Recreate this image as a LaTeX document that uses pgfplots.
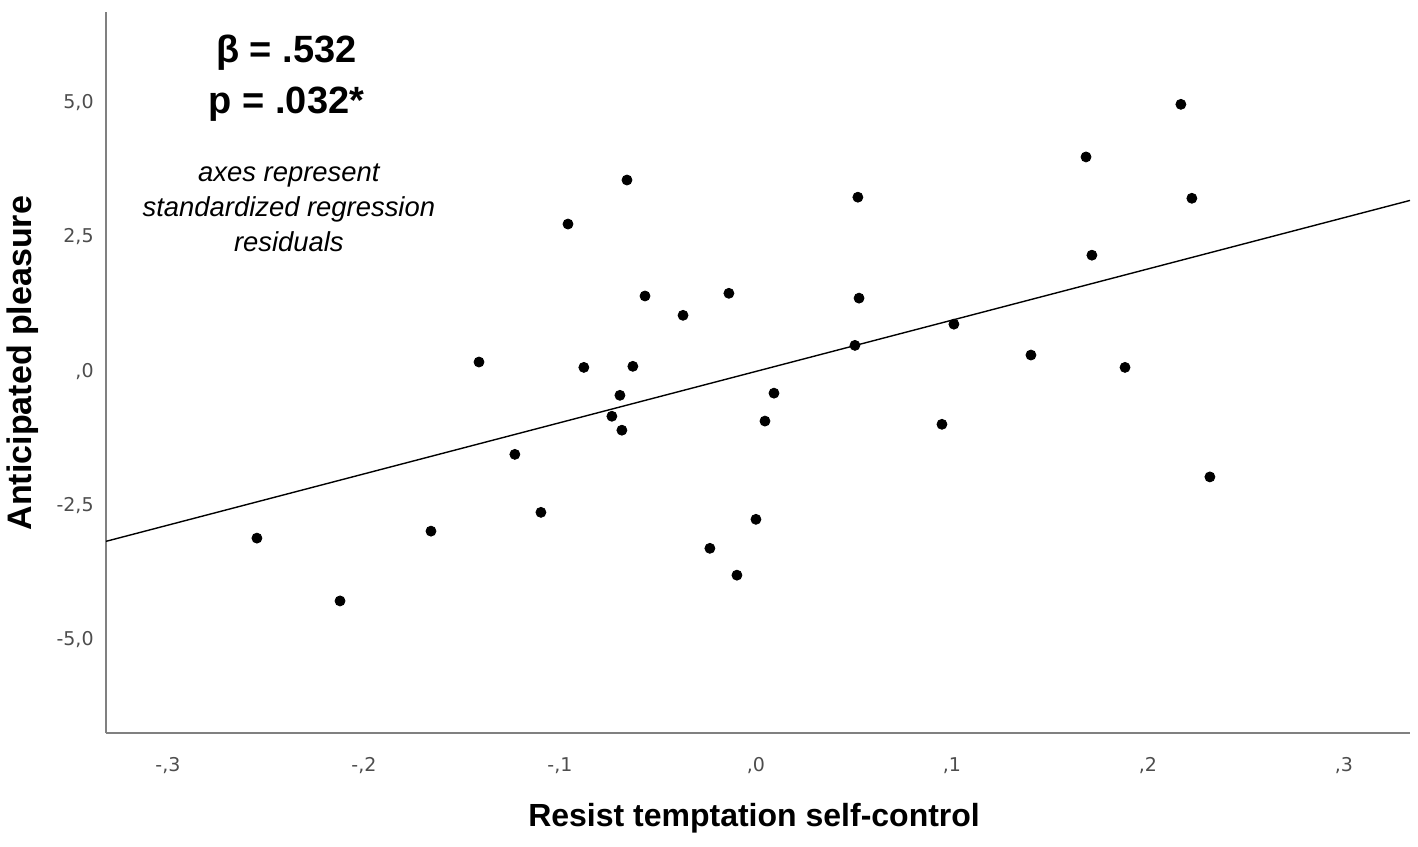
\documentclass[border=0pt]{standalone}
\usepackage{fontspec}
\setmainfont{Liberation Sans}
\newfontfamily\tickfont{DejaVu Sans}
\usepackage{pgfplots}
\pgfplotsset{compat=1.18}
\definecolor{axgray}{HTML}{808080}
\definecolor{tickgray}{HTML}{4d4d4d}

\pgfplotstableread{
x y
0.2168 4.97
0.1684 3.99
0.2224 3.22
0.0520 3.24
-0.0658 3.56
-0.0959 2.74
0.1714 2.16
-0.0566 1.40
-0.0138 1.45
0.0526 1.36
-0.0372 1.04
0.1010 0.875
0.0505 0.48
0.1403 0.30
-0.1413 0.17
-0.0878 0.07
-0.0628 0.09
0.1883 0.07
-0.0694 -0.45
0.0092 -0.41
-0.0735 -0.84
0.0046 -0.93
0.0949 -0.99
-0.0684 -1.10
-0.1230 -1.55
0.2316 -1.97
-0.1097 -2.63
-0.1658 -2.98
0.0000 -2.76
-0.2546 -3.11
-0.0235 -3.30
-0.0097 -3.80
-0.2122 -4.28
}\datatable

\begin{document}
\begin{tikzpicture}
\begin{axis}[
  scale only axis,
  width=652pt, height=360.5pt,
  xmin=-0.3316, xmax=0.3337,
  ymin=-6.74, ymax=6.69,
  axis x line*=bottom, axis y line*=left,
  axis line style={-, draw=axgray, line width=1pt},
  major tick length=0pt,
  tick style={draw=none},
  xtick={-0.3,-0.2,-0.1,0,0.1,0.2,0.3},
  xticklabels={{-,3},{-,2},{-,1},{,0},{,1},{,2},{,3}},
  ytick={-5,-2.5,0,2.5,5},
  yticklabels={{-5,0},{-2,5},{,0},{2,5},{5,0}},
  tick label style={font=\tickfont\fontsize{9.5}{11}\selectfont, text=tickgray, inner sep=0pt},
  xticklabel style={anchor=center, yshift=-16.5pt},
  yticklabel style={anchor=east, xshift=-6pt},
  xlabel={Resist temptation self-control},
  ylabel={Anticipated pleasure},
  xlabel style={at={(axis description cs:0.497,0)}, anchor=center, yshift=-42.5pt, font=\fontsize{16}{18}\selectfont\bfseries},
  ylabel style={at={(axis description cs:0,0.513)}, anchor=center, yshift=41.5pt, font=\fontsize{17}{20}\selectfont\bfseries},
]
\addplot[only marks, mark=*, mark size=2.5pt, black] table[x=x, y=y] {\datatable};
\addplot[black, line width=0.7pt] coordinates {(-0.3316,-3.17) (0.3337,3.18)};
\node[font=\fontsize{19}{25.5}\selectfont\bfseries, align=center] at (axis cs:-0.2395,5.46) {β = .532\\p = .032*};
\node[font=\fontsize{13.7}{17.5}\selectfont\itshape, align=center] at (axis cs:-0.2383,3.04) {axes represent\\standardized regression\\residuals};
\end{axis}
\pgfresetboundingbox
\path[use as bounding box] ([shift={(-53pt,-56.5pt)}]current axis.south west) rectangle ([shift={(4pt,6pt)}]current axis.north east);
\end{tikzpicture}
\end{document}
